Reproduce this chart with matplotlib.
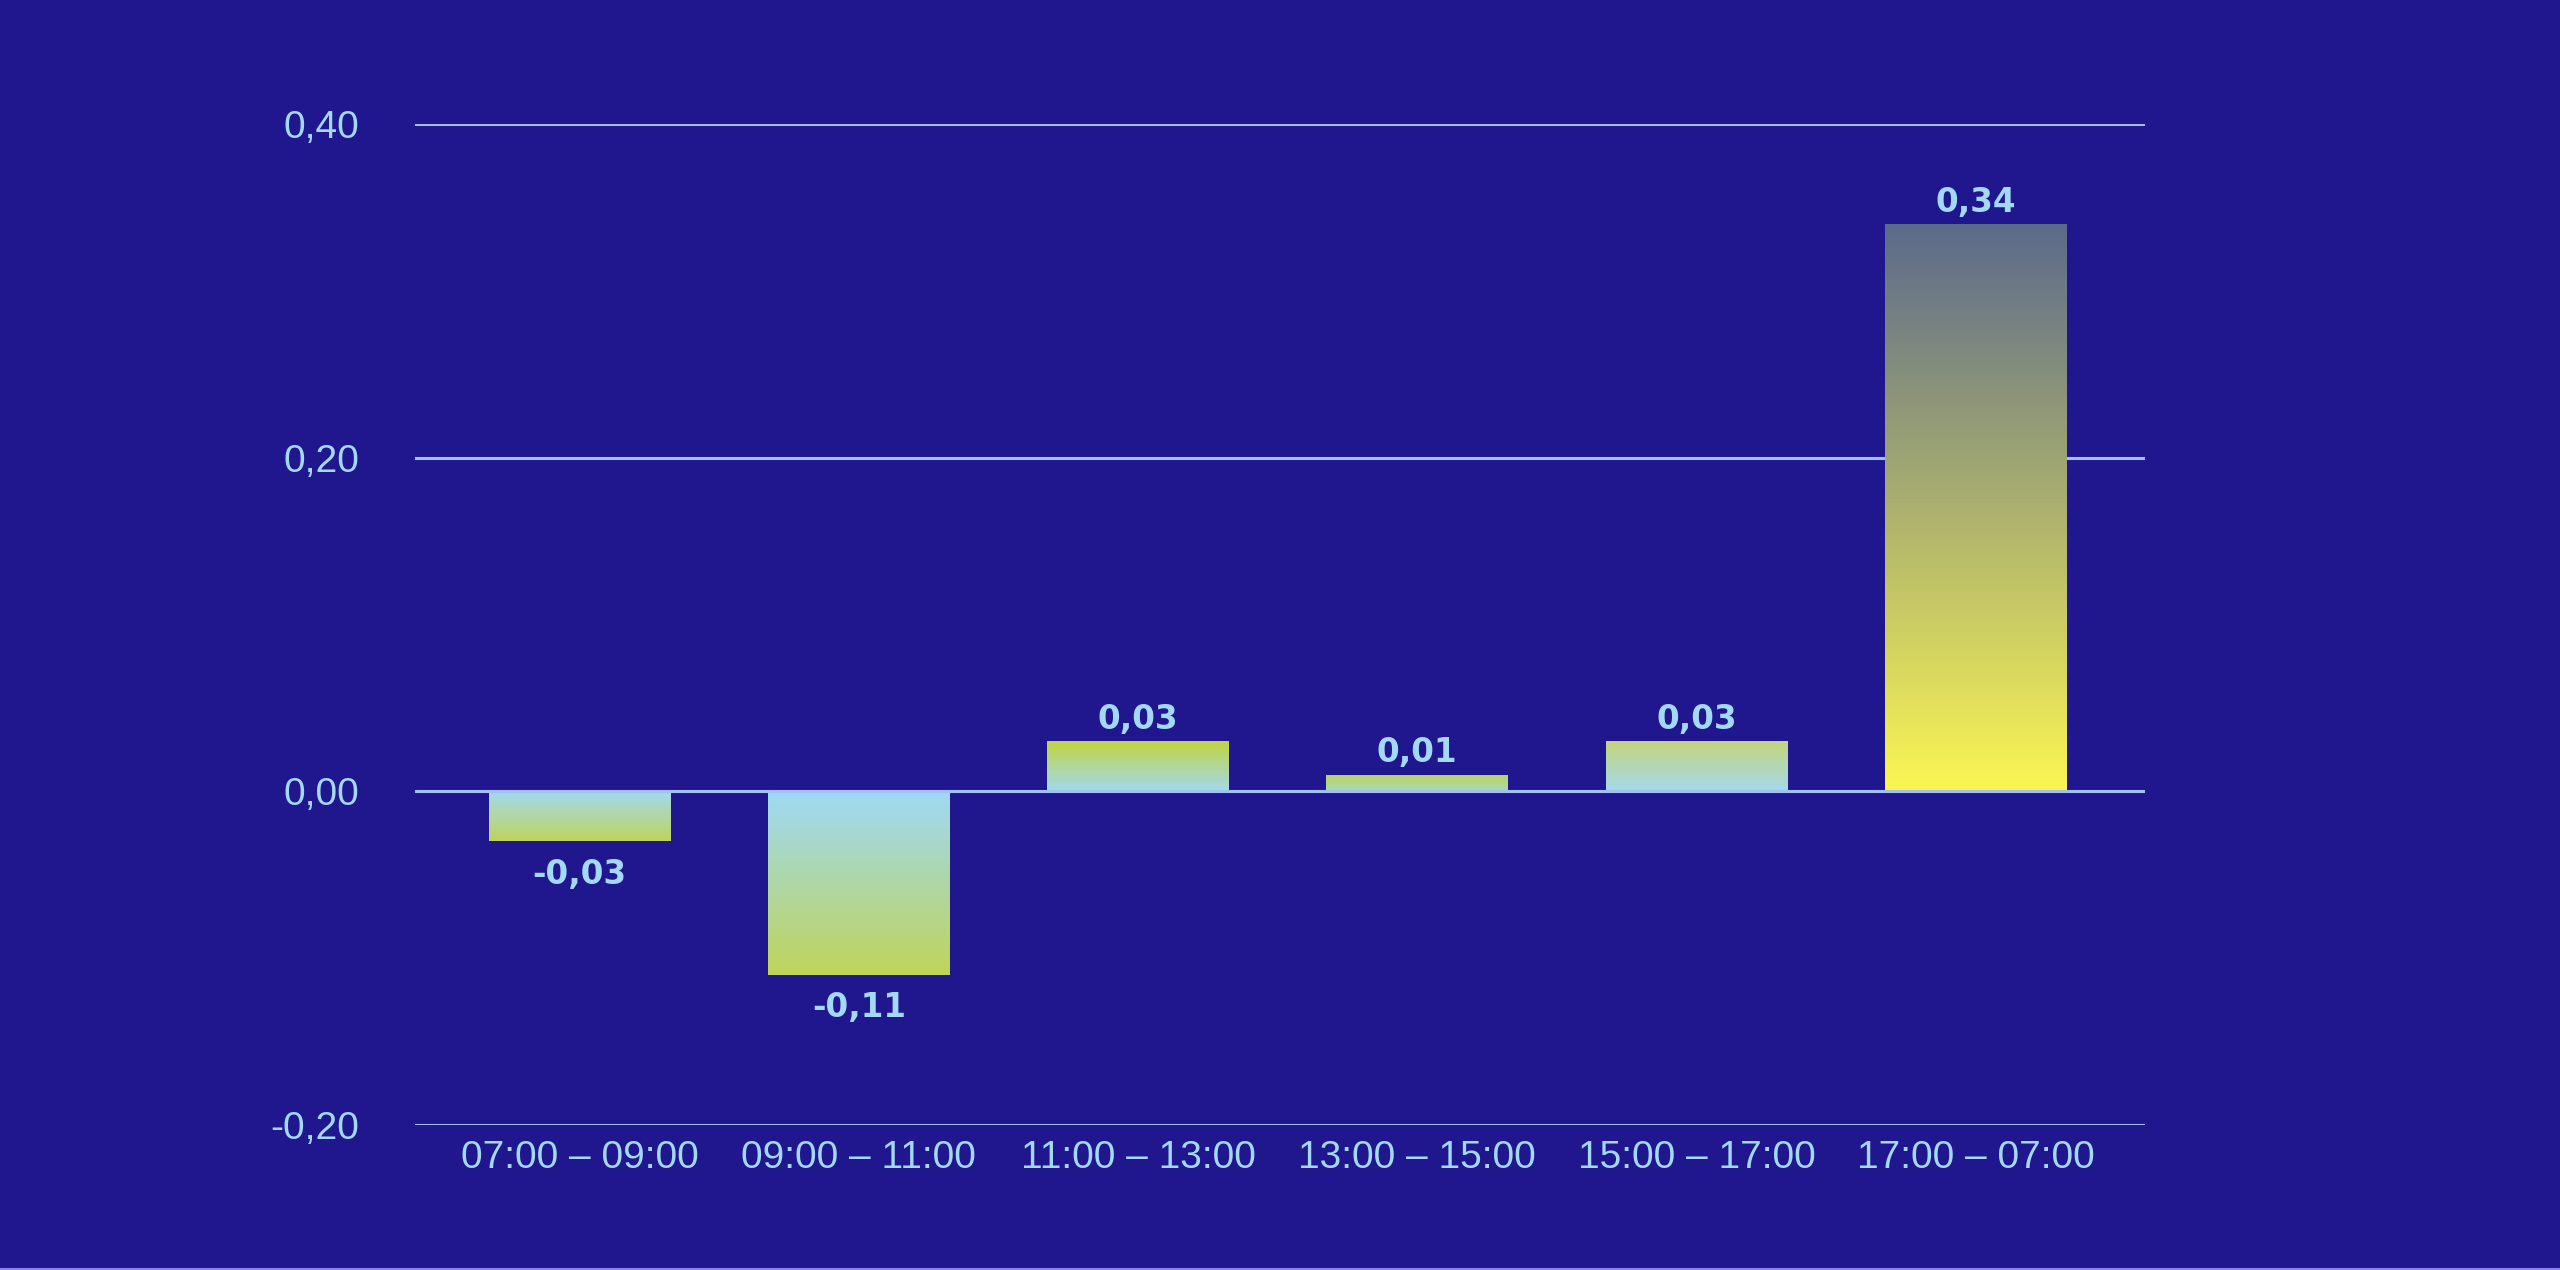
import numpy as np
import matplotlib
matplotlib.use("Agg")
import matplotlib.pyplot as plt
from matplotlib.colors import LinearSegmentedColormap
from matplotlib.lines import Line2D

# ---- data ----
categories = ["07:00 – 09:00", "09:00 – 11:00", "11:00 – 13:00",
              "13:00 – 15:00", "15:00 – 17:00", "17:00 – 07:00"]
values = [-0.03, -0.11, 0.03, 0.01, 0.03, 0.34]
value_labels = ["-0,03", "-0,11", "0,03", "0,01", "0,03", "0,34"]
y_ticks = [-0.20, 0.00, 0.20, 0.40]
y_tick_labels = ["-0,20", "0,00", "0,20", "0,40"]

# ---- style ----
BG = "#20178F"
GRID = "#A2C0F4"
TEXT = "#A3D8F6"
# gradient colours: (at baseline, at bar end)
grad_colors = [
    ("#A2DAF2", "#BFD45A"),
    ("#9FD9F6", "#C0D45A"),
    ("#A2D9EE", "#C2D43C"),
    ("#A9D8B6", "#BCD25E"),
    ("#A3D9EC", "#C6D47A"),
    ("#FBF653", "#5B6A8B"),
]

fig = plt.figure(figsize=(25.6, 12.7), dpi=100, facecolor=BG)
ax = fig.add_axes([415 / 2560, 1 - 1125 / 1270, (2145 - 415) / 2560, (1125 - 124) / 1270])
ax.set_facecolor(BG)

x = np.arange(len(categories))
bars = ax.bar(x, values, width=0.65, color="none", edgecolor="none", zorder=3)

grad = np.linspace(0, 1, 256).reshape(-1, 1)
for rect, v, (c0, c1) in zip(bars, values, grad_colors):
    cmap = LinearSegmentedColormap.from_list("g", [c0, c1])
    x0 = rect.get_x()
    x1 = x0 + rect.get_width()
    im = ax.imshow(grad, extent=(x0, x1, 0, v), origin="lower", aspect="auto",
                   cmap=cmap, vmin=0, vmax=1, zorder=3, interpolation="bilinear")
    im.set_clip_path(rect)

for xi, v, lab in zip(x, values, value_labels):
    if v >= 0:
        off = 8.8
    else:
        off = -30.5
    ax.annotate(lab, (xi, v), xytext=(0, off), textcoords="offset points",
                ha="center", va="baseline", color=TEXT, fontsize=23.5,
                fontweight="bold", family=["DejaVu Sans"], zorder=5)

ax.set_xlim(-0.59, 5.607)
ax.set_ylim(-0.20, 0.40)
ax.set_yticks(y_ticks)
ax.set_yticklabels(y_tick_labels)
ax.set_xticks(x)
ax.set_xticklabels(categories)

for yt in y_ticks:
    ax.axhline(yt, color=GRID, lw=2.2, zorder=2 if yt != 0 else 4)

for s in ax.spines.values():
    s.set_visible(False)
ax.tick_params(axis="both", length=0, colors=TEXT, labelsize=28)
ax.tick_params(axis="y", pad=40)
ax.tick_params(axis="x", pad=11)
for lab in ax.get_xticklabels() + ax.get_yticklabels():
    lab.set_family(["Liberation Sans", "DejaVu Sans"])
    lab.set_color(TEXT)

fig.add_artist(Line2D([0, 1], [0.001, 0.001], transform=fig.transFigure,
                      color="#8C84E0", lw=1.5))

fig.savefig("out.png", dpi=100, facecolor=BG)
